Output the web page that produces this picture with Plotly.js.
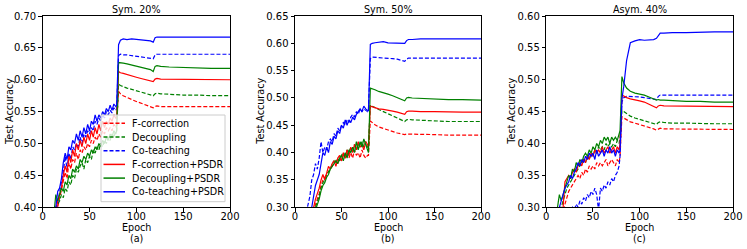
<!DOCTYPE html>
<html><head><meta charset="utf-8">
<script src="https://cdn.plot.ly/plotly-3.0.1.min.js"></script>
<style>html,body{margin:0;padding:0;background:#fff}#chart{width:747px;height:249px}</style>
</head><body><div id="chart"></div><script>
var epochs = [10,12,14,16,18,20,22,24,26,28,30,32,34,36,38,40,42,44,46,48,50,52,54,56,58,60,62,64,66,68,70,72,74,76,78,79,81,83,86,90,95,100,105,110,115,118,120,122,126,135,150,165,180,200];
var xTicks = [0,50,100,150,200];
var seriesNames = ['F-correction','Decoupling','Co-teaching','F-correction+PSDR','Decoupling+PSDR','Co-teaching+PSDR'];
var seriesColors = ['#ff0000','#008000','#0000ff','#ff0000','#008000','#0000ff'];
var seriesDash = ['4px,2px','4px,2px','4px,2px','solid','solid','solid'];
var panelTitles = ['Sym. 20%','Sym. 50%','Asym. 40%'];
var panelLabels = ['(a)','(b)','(c)'];

// Sym. 20%
var s20_fc = [0.355,0.365,0.38,0.40,0.415,0.425,0.44,0.455,0.445,0.47,0.46,0.475,0.47,0.485,0.475,0.49,0.485,0.495,0.49,0.50,0.495,0.505,0.50,0.51,0.505,0.515,0.51,0.52,0.515,0.525,0.52,0.525,0.52,0.53,0.525,
  0.53,0.582,0.578,0.575,0.572,0.569,0.566,0.563,0.560,0.558,0.556,0.558,0.559,0.558,0.558,0.558,0.558,0.558,0.558];
var s20_dec = [0.36,0.385,0.40,0.405,0.41,0.42,0.415,0.43,0.425,0.44,0.435,0.45,0.445,0.46,0.455,0.465,0.47,0.46,0.475,0.47,0.48,0.475,0.49,0.485,0.495,0.49,0.50,0.495,0.505,0.50,0.51,0.505,0.515,0.51,0.52,
  0.52,0.593,0.591,0.589,0.587,0.585,0.583,0.581,0.579,0.577,0.575,0.578,0.579,0.578,0.577,0.576,0.576,0.575,0.575];
var s20_ct = [0.36,0.375,0.39,0.41,0.425,0.44,0.455,0.48,0.46,0.485,0.475,0.495,0.49,0.50,0.495,0.51,0.50,0.515,0.51,0.52,0.515,0.525,0.52,0.535,0.53,0.54,0.535,0.545,0.54,0.55,0.545,0.552,0.548,0.556,0.552,
  0.555,0.638,0.640,0.639,0.639,0.638,0.637,0.636,0.635,0.634,0.633,0.639,0.640,0.640,0.640,0.640,0.640,0.640,0.640];
var s20_fc_psdr = [0.36,0.37,0.39,0.41,0.42,0.43,0.45,0.465,0.455,0.48,0.47,0.49,0.48,0.50,0.49,0.505,0.495,0.51,0.50,0.515,0.505,0.52,0.51,0.525,0.515,0.53,0.52,0.535,0.525,0.535,0.53,0.54,0.535,0.545,0.54,
  0.54,0.613,0.611,0.610,0.608,0.606,0.604,0.602,0.600,0.599,0.597,0.601,0.602,0.601,0.601,0.600,0.600,0.600,0.600];
var s20_dec_psdr = [0.37,0.39,0.42,0.41,0.42,0.43,0.425,0.44,0.435,0.45,0.445,0.46,0.455,0.465,0.46,0.475,0.47,0.48,0.475,0.485,0.48,0.49,0.485,0.495,0.49,0.50,0.495,0.505,0.50,0.51,0.505,0.515,0.51,0.52,0.515,
  0.52,0.627,0.627,0.626,0.625,0.623,0.622,0.620,0.618,0.616,0.613,0.621,0.622,0.621,0.620,0.619,0.618,0.618,0.618];
var s20_ct_psdr = [0.37,0.38,0.40,0.425,0.43,0.445,0.47,0.485,0.475,0.495,0.49,0.505,0.50,0.515,0.505,0.52,0.51,0.525,0.515,0.53,0.52,0.535,0.53,0.545,0.535,0.545,0.54,0.55,0.545,0.555,0.55,0.56,0.552,0.562,0.558,
  0.56,0.655,0.662,0.664,0.663,0.664,0.663,0.663,0.662,0.661,0.659,0.666,0.667,0.667,0.667,0.667,0.667,0.667,0.667];

// Sym. 50%
var s50_fc = [0.25,0.26,0.27,0.28,0.285,0.295,0.305,0.315,0.325,0.34,0.35,0.355,0.36,0.365,0.37,0.375,0.38,0.385,0.38,0.39,0.385,0.395,0.39,0.40,0.39,0.40,0.39,0.405,0.395,0.40,0.39,0.405,0.395,0.39,0.395,
  0.395,0.458,0.455,0.451,0.447,0.444,0.441,0.438,0.436,0.434,0.433,0.434,0.434,0.434,0.433,0.433,0.432,0.432,0.432];
var s50_dec = [0.25,0.26,0.27,0.28,0.285,0.29,0.30,0.31,0.32,0.335,0.345,0.35,0.36,0.365,0.37,0.38,0.385,0.38,0.39,0.385,0.395,0.40,0.39,0.405,0.40,0.41,0.40,0.415,0.405,0.415,0.41,0.42,0.41,0.42,0.41,
  0.41,0.487,0.485,0.482,0.479,0.475,0.471,0.467,0.463,0.460,0.457,0.460,0.461,0.460,0.459,0.458,0.457,0.457,0.457];
var s50_ct = [0.28,0.29,0.305,0.32,0.35,0.36,0.38,0.37,0.39,0.42,0.40,0.41,0.405,0.42,0.425,0.42,0.435,0.43,0.445,0.44,0.45,0.455,0.45,0.46,0.455,0.465,0.47,0.465,0.475,0.47,0.48,0.475,0.48,0.478,0.475,
  0.48,0.572,0.575,0.575,0.574,0.573,0.573,0.572,0.571,0.569,0.567,0.571,0.573,0.573,0.573,0.573,0.573,0.573,0.573];
var s50_fc_psdr = [0.26,0.27,0.28,0.285,0.29,0.30,0.315,0.325,0.335,0.35,0.36,0.35,0.365,0.375,0.37,0.38,0.385,0.375,0.39,0.395,0.385,0.40,0.39,0.405,0.395,0.41,0.40,0.415,0.405,0.42,0.41,0.415,0.405,0.42,0.415,
  0.41,0.485,0.484,0.482,0.480,0.479,0.478,0.476,0.474,0.472,0.470,0.475,0.476,0.476,0.475,0.475,0.474,0.474,0.474];
var s50_dec_psdr = [0.25,0.26,0.27,0.28,0.285,0.29,0.295,0.305,0.315,0.33,0.34,0.345,0.355,0.36,0.37,0.375,0.38,0.385,0.38,0.39,0.395,0.385,0.40,0.39,0.405,0.40,0.41,0.40,0.42,0.405,0.42,0.41,0.425,0.415,0.405,
  0.40,0.518,0.517,0.515,0.512,0.510,0.507,0.504,0.501,0.498,0.495,0.500,0.501,0.500,0.499,0.498,0.497,0.497,0.496];
var s50_ct_psdr = [0.27,0.28,0.29,0.295,0.30,0.32,0.34,0.35,0.36,0.38,0.40,0.395,0.41,0.40,0.42,0.415,0.43,0.425,0.44,0.435,0.45,0.445,0.46,0.45,0.46,0.455,0.465,0.46,0.47,0.475,0.48,0.475,0.485,0.48,0.476,
  0.476,0.598,0.600,0.601,0.602,0.603,0.601,0.601,0.600,0.600,0.600,0.605,0.607,0.607,0.608,0.608,0.608,0.608,0.608];

// Asym. 40%
var a40_fc = [0.25,0.26,0.27,0.28,0.29,0.305,0.315,0.325,0.33,0.335,0.34,0.345,0.35,0.345,0.355,0.35,0.36,0.355,0.365,0.36,0.365,0.36,0.37,0.365,0.37,0.365,0.37,0.375,0.365,0.37,0.375,0.37,0.365,0.375,0.37,
  0.38,0.442,0.440,0.437,0.434,0.432,0.430,0.428,0.425,0.423,0.421,0.423,0.424,0.423,0.423,0.422,0.422,0.422,0.422];
var a40_dec = [0.27,0.29,0.30,0.30,0.31,0.32,0.33,0.335,0.34,0.345,0.35,0.355,0.36,0.365,0.37,0.375,0.37,0.38,0.375,0.385,0.38,0.39,0.385,0.395,0.39,0.395,0.39,0.40,0.395,0.40,0.395,0.40,0.395,0.405,0.40,
  0.41,0.452,0.450,0.447,0.443,0.440,0.438,0.436,0.434,0.432,0.430,0.433,0.434,0.433,0.432,0.432,0.431,0.431,0.431];
var a40_ct = [0.25,0.26,0.27,0.275,0.28,0.285,0.29,0.29,0.295,0.30,0.295,0.305,0.30,0.31,0.305,0.315,0.31,0.32,0.315,0.325,0.32,0.33,0.32,0.295,0.33,0.325,0.335,0.33,0.34,0.335,0.345,0.34,0.35,0.355,0.365,
  0.38,0.465,0.472,0.474,0.474,0.473,0.473,0.472,0.471,0.470,0.469,0.474,0.476,0.476,0.476,0.476,0.476,0.476,0.476];
var a40_fc_psdr = [0.26,0.27,0.28,0.29,0.30,0.34,0.345,0.35,0.345,0.355,0.36,0.355,0.365,0.37,0.365,0.375,0.37,0.38,0.375,0.385,0.38,0.39,0.385,0.39,0.385,0.395,0.385,0.39,0.395,0.385,0.39,0.395,0.385,0.395,0.39,
  0.40,0.476,0.474,0.472,0.470,0.469,0.467,0.465,0.462,0.459,0.456,0.459,0.460,0.459,0.459,0.458,0.458,0.458,0.458];
var a40_dec_psdr = [0.28,0.30,0.32,0.31,0.32,0.33,0.34,0.35,0.345,0.36,0.355,0.37,0.365,0.375,0.37,0.38,0.385,0.38,0.39,0.385,0.395,0.39,0.40,0.395,0.405,0.40,0.41,0.405,0.41,0.40,0.41,0.405,0.41,0.405,0.415,
  0.42,0.505,0.495,0.487,0.482,0.479,0.478,0.476,0.473,0.470,0.468,0.469,0.468,0.468,0.467,0.466,0.466,0.465,0.465];
var a40_ct_psdr = [0.27,0.28,0.30,0.31,0.32,0.33,0.335,0.34,0.35,0.345,0.355,0.36,0.37,0.365,0.375,0.37,0.38,0.375,0.385,0.38,0.385,0.375,0.39,0.38,0.385,0.39,0.38,0.39,0.385,0.395,0.385,0.39,0.38,0.39,0.385,
  0.39,0.47,0.49,0.53,0.558,0.561,0.563,0.562,0.563,0.563,0.565,0.570,0.573,0.573,0.574,0.574,0.575,0.575,0.575];

var W = 747, H = 249;
function px(x){ return x / W; }
function py(y){ return 1 - y / H; }
var FONT = 'DejaVu Sans, sans-serif';
var plotTop = 16, plotBottom = 207.3;
var panels = [
  {x0:42.7, x1:230, yr:[0.40,0.70], ylab:9.3, data:[s20_fc,s20_dec,s20_ct,s20_fc_psdr,s20_dec_psdr,s20_ct_psdr]},
  {x0:295, x1:481, yr:[0.30,0.65], ylab:261, data:[s50_fc,s50_dec,s50_ct,s50_fc_psdr,s50_dec_psdr,s50_ct_psdr]},
  {x0:546.3, x1:733, yr:[0.30,0.60], ylab:512, data:[a40_fc,a40_dec,a40_ct,a40_fc_psdr,a40_dec_psdr,a40_ct_psdr]}
];

var traces = [], annotations = [], shapes = [];
var layout = {
  width: W, height: H, margin:{l:0,r:0,t:0,b:0},
  paper_bgcolor:'#fff', plot_bgcolor:'#fff', showlegend:false,
  font:{family:FONT, size:10, color:'#000'}
};
panels.forEach(function(p, i){
  var sfx = i === 0 ? '' : String(i+1);
  p.data.forEach(function(vals, k){
    traces.push({
      x: epochs, y: vals, xaxis:'x'+sfx, yaxis:'y'+sfx, type:'scatter', mode:'lines',
      name: seriesNames[k], hoverinfo:'skip',
      line:{color:seriesColors[k], width:1.2, dash:seriesDash[k]}
    });
  });
  var common = {showline:true, mirror:true, linecolor:'#000', linewidth:1, ticks:'outside', ticklen:3.5,
    tickwidth:1, tickcolor:'#000', showgrid:false, zeroline:false, tickfont:{family:FONT, size:10, color:'#000'}};
  layout['xaxis'+sfx] = Object.assign({}, common, {domain:[px(p.x0), px(p.x1)], range:[0,200],
    tickmode:'array', tickvals:xTicks, anchor:'y'+sfx, ticklabelstandoff:-4});
  layout['yaxis'+sfx] = Object.assign({}, common, {domain:[py(plotBottom), py(plotTop)], range:p.yr,
    dtick:0.05, tick0:0, tickformat:'.2f', anchor:'x'+sfx});
  var cx = px((p.x0 + p.x1)/2);
  annotations.push({text:panelTitles[i], x:cx, y:py(9), xref:'paper', yref:'paper', showarrow:false,
    xanchor:'center', yanchor:'middle', font:{family:FONT, size:9.6, color:'#000'}});
  annotations.push({text:'Epoch', x:cx, y:py(227.7), xref:'paper', yref:'paper', showarrow:false,
    xanchor:'center', yanchor:'middle', font:{family:FONT, size:9.6, color:'#000'}});
  annotations.push({text:panelLabels[i], x:cx, y:py(238), xref:'paper', yref:'paper', showarrow:false,
    xanchor:'center', yanchor:'middle', font:{family:FONT, size:9.6, color:'#000'}});
  annotations.push({text:'Test Accuracy', x:px(p.ylab), y:py((plotTop+plotBottom)/2), xref:'paper', yref:'paper',
    showarrow:false, textangle:-90, xanchor:'center', yanchor:'middle', font:{family:FONT, size:9.6, color:'#000'}});
});

// legend (panel a)
shapes.push({type:'rect', xref:'paper', yref:'paper', x0:px(101), x1:px(225), y0:py(201.7), y1:py(115),
  fillcolor:'rgba(255,255,255,0.8)', line:{color:'#cccccc', width:1}, layer:'above'});
seriesNames.forEach(function(nm, k){
  var ry = 123.3 + k*13.7;
  shapes.push({type:'line', xref:'paper', yref:'paper', x0:px(103.5), x1:px(125), y0:py(ry), y1:py(ry),
    line:{color:seriesColors[k], width:1.5, dash:seriesDash[k]}, layer:'above'});
  annotations.push({text:nm, x:px(130), y:py(ry), xref:'paper', yref:'paper', showarrow:false,
    xanchor:'left', yanchor:'middle', font:{family:FONT, size:9.6, color:'#000'}});
});
layout.annotations = annotations;
layout.shapes = shapes;
Plotly.newPlot('chart', traces, layout, {staticPlot:true, displayModeBar:false});
</script></body></html>
